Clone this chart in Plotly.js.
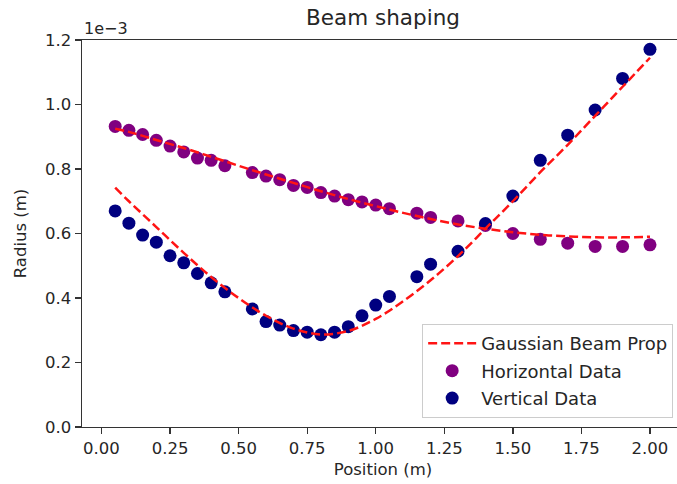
<!DOCTYPE html>
<html>
<head>
<meta charset="utf-8">
<script src="https://cdn.plot.ly/plotly-3.0.1.min.js"></script>
<style>
  html, body { margin: 0; padding: 0; overflow: hidden; background: #fff; }
  #chart { width: 690px; height: 484px; }
</style>
</head>
<body>
<div id="chart"></div>
<script>
// Values on the y axis are in units of 1e-3 m (the axis shows a "1e-3" multiplier)
const positions = [0.05,0.10,0.15,0.20,0.25,0.30,0.35,0.40,0.45,0.55,0.60,0.65,0.70,0.75,0.80,0.85,0.90,0.95,1.00,1.05,1.15,1.20,1.30,1.40,1.50,1.60,1.70,1.80,1.90,2.00];
const horizontalRadius = [0.932,0.920,0.907,0.889,0.871,0.853,0.834,0.827,0.810,0.789,0.778,0.767,0.749,0.743,0.727,0.716,0.705,0.698,0.688,0.677,0.663,0.650,0.639,0.625,0.600,0.582,0.570,0.560,0.560,0.565];
const verticalRadius = [0.670,0.632,0.595,0.573,0.531,0.509,0.476,0.447,0.419,0.366,0.327,0.316,0.299,0.294,0.286,0.294,0.311,0.345,0.378,0.405,0.466,0.505,0.545,0.631,0.716,0.827,0.905,0.983,1.081,1.171];

const fitPositions = [0.05,0.10,0.20,0.30,0.40,0.50,0.60,0.70,0.80,0.90,1.00,1.10,1.20,1.30,1.40,1.50,1.60,1.70,1.80,1.90,2.00];
const fitHorizontal = [0.925,0.915,0.890,0.865,0.838,0.810,0.783,0.757,0.731,0.707,0.685,0.664,0.645,0.628,0.615,0.604,0.596,0.591,0.588,0.588,0.590];
const fitVertical = [0.742,0.700,0.620,0.540,0.465,0.400,0.345,0.305,0.287,0.298,0.335,0.390,0.455,0.530,0.615,0.700,0.790,0.875,0.965,1.055,1.145];

const xTicks = [0,0.25,0.5,0.75,1.0,1.25,1.5,1.75,2.0];
const yTicks = [0,0.2,0.4,0.6,0.8,1.0,1.2];

const FONT = 'DejaVu Sans, sans-serif';
const TXT = '#262626';

const traces = [
  {
    x: positions, y: horizontalRadius, type: 'scatter', mode: 'markers',
    name: 'Horizontal Data', legendrank: 2, legendgroup: 'h',
    marker: { color: 'purple', size: 13, line: { width: 0 } }
  },
  {
    x: positions, y: verticalRadius, type: 'scatter', mode: 'markers',
    name: 'Vertical Data', legendrank: 3, legendgroup: 'v',
    marker: { color: 'navy', size: 13, line: { width: 0 } }
  },
  {
    x: fitPositions.concat([null], fitPositions),
    y: fitHorizontal.concat([null], fitVertical),
    type: 'scatter', mode: 'lines', name: 'Gaussian Beam Prop', legendrank: 1, legendgroup: 'fit',
    connectgaps: false,
    line: { color: 'rgb(255,20,20)', width: 2.5, dash: '9px,4px', shape: 'spline', smoothing: 1 }
  }
];

const axisCommon = {
  showgrid: false, zeroline: false, showline: true, mirror: true,
  linecolor: '#333', linewidth: 1.4,
  ticks: 'outside', ticklen: 6, tickwidth: 1.3, tickcolor: '#333',
  tickfont: { family: FONT, size: 16.5, color: TXT }
};

const layout = {
  width: 690, height: 484,
  margin: { l: 82, r: 6, t: 40, b: 57 },
  paper_bgcolor: '#fff', plot_bgcolor: '#fff',
  font: { family: FONT, color: TXT },
  title: {
    text: 'Beam shaping', x: 0.5, xref: 'paper', xanchor: 'center',
    y: 0.963, yref: 'container', yanchor: 'middle',
    font: { family: FONT, size: 21.5, color: TXT }
  },
  xaxis: Object.assign({}, axisCommon, {
    range: [-0.071, 2.124], tickvals: xTicks, tickformat: '.2f',
    title: { text: 'Position (m)', font: { family: FONT, size: 16.5, color: TXT }, standoff: 6 }
  }),
  yaxis: Object.assign({}, axisCommon, {
    range: [0, 1.2], tickvals: yTicks, tickformat: '.1f',
    title: { text: 'Radius (m)', font: { family: FONT, size: 16.5, color: TXT }, standoff: 14 }
  }),
  showlegend: true,
  legend: {
    x: 0.982, xanchor: 'right', y: 0.023, yanchor: 'bottom',
    bgcolor: 'rgba(255,255,255,0.85)', bordercolor: '#cccccc', borderwidth: 1,
    traceorder: 'grouped', tracegroupgap: 1, itemwidth: 48,
    font: { family: FONT, size: 18, color: TXT }
  },
  annotations: [{
    text: '1e\u22123', xref: 'paper', yref: 'paper', x: 0, y: 1,
    xanchor: 'left', yanchor: 'bottom', showarrow: false,
    font: { family: FONT, size: 16, color: TXT }
  }]
};

Plotly.newPlot('chart', traces, layout, { displayModeBar: false, responsive: false, staticPlot: true });
</script>
</body>
</html>
